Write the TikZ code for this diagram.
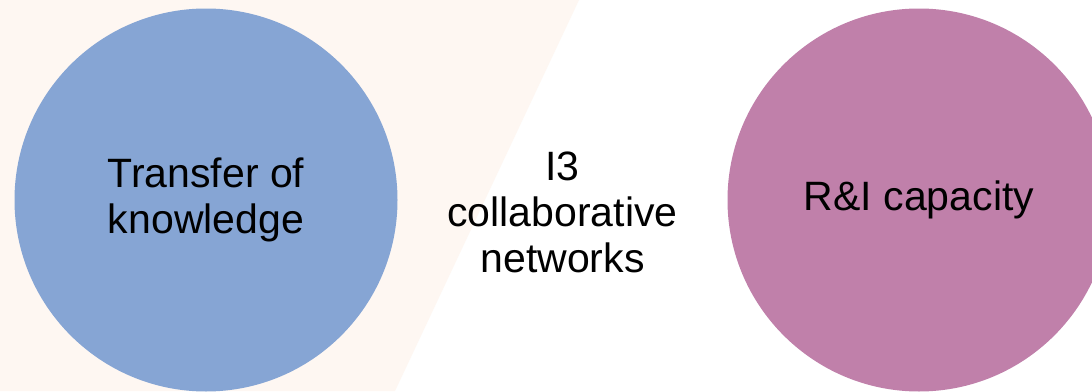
\documentclass[tikz,border=0pt]{standalone}
\usepackage{fontspec}
\setmainfont{Liberation Sans}
\usetikzlibrary{positioning,calc}

\definecolor{peach}{RGB}{254,247,242}
\definecolor{knowblue}{RGB}{134,165,212}
\definecolor{capmauve}{RGB}{192,128,170}

\begin{document}
\begin{tikzpicture}[
    x=1pt, y=-1pt,
    bignode/.style={circle, inner sep=0pt, minimum size=383pt, align=center, font=\fontsize{41}{46}\selectfont},
    textnode/.style={align=center, inner sep=0pt, font=\fontsize{41}{46}\selectfont}
    ]

    % Frame
    \useasboundingbox (0,0) rectangle (1092,391);
    \clip (0,0) rectangle (1092,391);
    \fill[white] (0,0) rectangle (1092,391);
    \fill[peach] (0,0) -- (579,0) -- (395,391) -- (0,391) -- cycle;

    %Nodes
    \node[bignode, fill=knowblue] (know) at (206,200) {Transfer of\\knowledge};
    \node[bignode, fill=capmauve] (cap)  at (919,200) {R\&I capacity};
    \node[textnode] (net) at ($(know)!0.5!(cap)$) [yshift=-12pt] {I3\\collaborative\\networks};
\end{tikzpicture}
\end{document}
